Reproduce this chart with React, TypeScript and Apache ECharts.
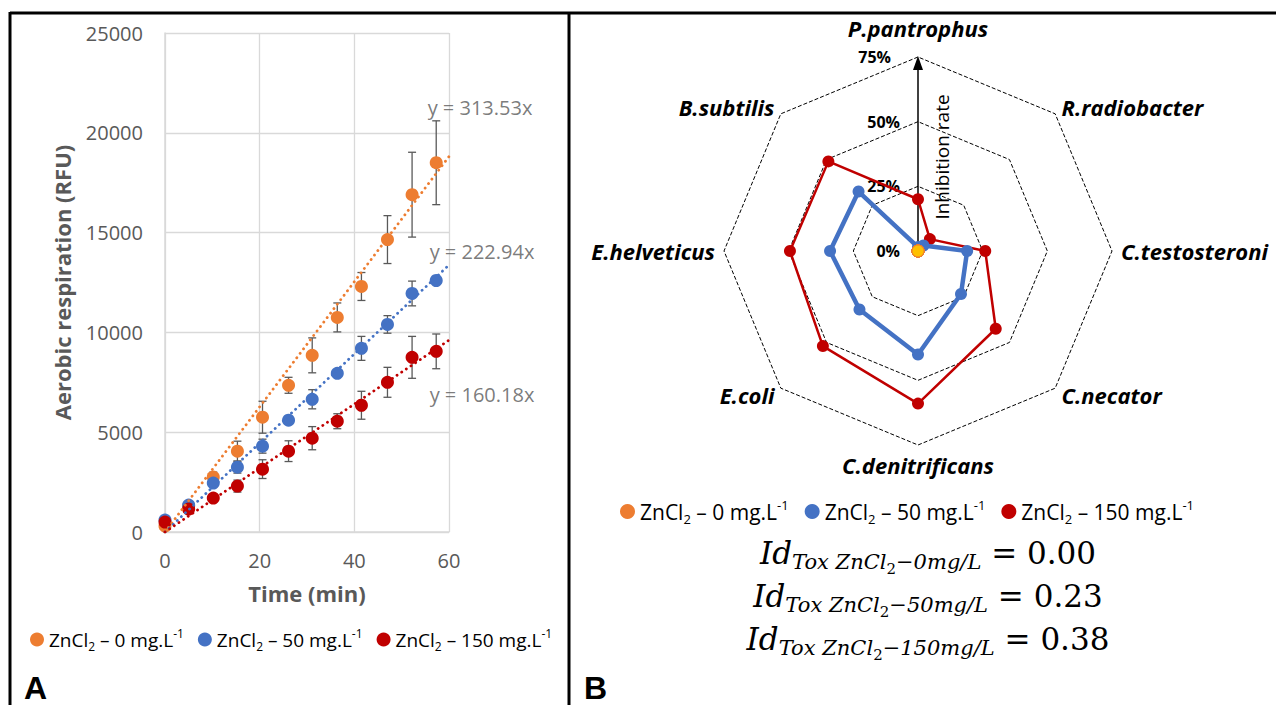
import React, { useEffect, useRef } from "react";
import * as echarts from "echarts";

// ---------- Panel A data ----------
const timeMin = [0, 5, 10.2, 15.3, 20.6, 26.1, 31.1, 36.4, 41.5, 47, 52.2, 57.3];
const resp0 = [300, 1300, 2750, 4050, 5750, 7350, 8850, 10750, 12300, 14650, 16900, 18500];
const err0 = [100, 200, 250, 500, 800, 400, 875, 725, 700, 1200, 2125, 2100];
const resp50 = [600, 1350, 2450, 3250, 4300, 5600, 6650, 7950, 9200, 10400, 11950, 12600];
const err50 = [80, 150, 200, 300, 350, 150, 480, 150, 600, 440, 620, 200];
const resp150 = [500, 1150, 1700, 2300, 3150, 4050, 4700, 5550, 6350, 7500, 8750, 9050];
const err150 = [80, 200, 200, 300, 470, 520, 580, 375, 700, 750, 1050, 870];
const slopes = [313.53, 222.94, 160.18];
const doses = ["0", "50", "150"];
const seriesNames = doses.map((d) => `ZnCl₂ – ${d} mg.L⁻¹`);
const xMin = 0, xMax = 60, xInterval = 20;
const yMin = 0, yMax = 25000, yInterval = 5000;

// ---------- Panel B data ----------
const species = [
  "P.pantrophus", "R.radiobacter", "C.testosteroni", "C.necator",
  "C.denitrificans", "E.coli", "E.helveticus", "B.subtilis",
];
const inhib0 = [0, 0, 0, 0, 0, 0, 0, 0];
const inhib50 = [1.5, 3, 19, 23.5, 40, 32, 34, 32.5];
const inhib150 = [20, 6.5, 26, 42.5, 59, 52, 49.5, 49];
const radarTicks = [0, 25, 50, 75];
const idTox = ["0.00", "0.23", "0.38"];

// ---------- styles / layout ----------
const colors = ["#ED7D31", "#4472C4", "#C00000"];
const gray = "#595959";
const FONT = "'Open Sans', 'Noto Sans', sans-serif";
const SERIF = "'DejaVu Serif', 'Liberation Serif', serif";
const RC = [918, 251];
const RR = 194;
const trendLabelOffsets = [[31, -49], [33, -14], [33, 54]];

const resp = [resp0, resp50, resp150];
const errs = [err0, err50, err150];
const inhib = [inhib0, inhib50, inhib150];

// ECharts radar runs counter-clockwise: reorder so the picture reads clockwise
const ccwOrder = species.map((_, i) => (i === 0 ? 0 : species.length - i));

const makeRich = (fs: number) => ({
  a: { fontFamily: FONT, fontSize: fs, lineHeight: fs + 6, color: "#000" },
  s: { fontFamily: FONT, fontSize: Math.round(fs * 0.62), lineHeight: 10, verticalAlign: "bottom", color: "#000" },
  p: { fontFamily: FONT, fontSize: Math.round(fs * 0.62), lineHeight: 16, verticalAlign: "top", color: "#000" },
});
const legendFormatter = (name: string) => {
  const d = doses[seriesNames.indexOf(name)];
  return `{a|ZnCl}{s|2}{a| – ${d} mg.L}{p|-1}`;
};

export default function App() {
  const ref = useRef<HTMLDivElement>(null);
  useEffect(() => {
    if (!ref.current) return;
    const chart = echarts.init(ref.current, null, { renderer: "svg" });

    const series: any[] = [];
    // error bars
    resp.forEach((r, i) => {
      series.push({
        type: "custom",
        name: "err" + i,
        silent: true,
        z: 2,
        encode: { x: 0, y: [1, 2] },
        data: timeMin.map((t, k) => [t, r[k] - errs[i][k], r[k] + errs[i][k]]),
        renderItem: (params: any, api: any) => {
          const x = api.value(0);
          const lo = api.coord([x, api.value(1)]);
          const hi = api.coord([x, api.value(2)]);
          const hw = 4;
          const st = { stroke: gray, lineWidth: 1.3 };
          return {
            type: "group",
            children: [
              { type: "line", shape: { x1: lo[0], y1: lo[1], x2: hi[0], y2: hi[1] }, style: st },
              { type: "line", shape: { x1: lo[0] - hw, y1: lo[1], x2: lo[0] + hw, y2: lo[1] }, style: st },
              { type: "line", shape: { x1: hi[0] - hw, y1: hi[1], x2: hi[0] + hw, y2: hi[1] }, style: st },
            ],
          };
        },
      });
    });
    // points
    resp.forEach((r, i) => {
      series.push({
        type: "scatter",
        name: seriesNames[i],
        z: 3,
        symbol: "circle",
        symbolSize: 13,
        itemStyle: { color: colors[i], opacity: 1 },
        data: timeMin.map((t, k) => [t, r[k]]),
      });
    });
    // trend lines
    slopes.forEach((s, i) => {
      series.push({
        type: "line",
        name: "trend" + i,
        silent: true,
        z: 4,
        symbol: "none",
        showSymbol: false,
        lineStyle: { color: colors[i], width: 2.8, type: [0.1, 5.5], cap: "round" },
        data: [[xMin, 0], [xMax, s * xMax]],
      });
      series.push({
        type: "scatter",
        name: "trendLabel" + i,
        silent: true,
        z: 5,
        symbolSize: 0,
        data: [[xMax, s * xMax]],
        label: {
          show: true,
          position: "inside",
          offset: trendLabelOffsets[i],
          formatter: `y = ${s.toFixed(2)}x`,
          fontFamily: FONT,
          fontSize: 20,
          color: gray,
        },
      });
    });
    // radar
    [2, 1, 0].forEach((i) => {
      const isZero = i === 0;
      series.push({
        type: "radar",
        name: "radar" + i,
        z: 3 + (2 - i),
        symbol: "circle",
        symbolSize: 12,
        lineStyle: { color: isZero ? "#FFC000" : colors[i], width: i === 1 ? 4.5 : i === 2 ? 2.5 : 1 },
        itemStyle: isZero
          ? { color: "#FFC000", borderColor: "#ED7D31", borderWidth: 1 }
          : { color: colors[i] },
        data: [{ name: seriesNames[i], value: ccwOrder.map((k) => inhib[i][k]) }],
      });
    });

    const legendCommon = {
      data: seriesNames,
      icon: "circle",
      padding: 0,
      selectedMode: false,
      formatter: legendFormatter,
    };

    const graphic: any[] = [
      // frame
      { type: "line", shape: { x1: 10, y1: 13, x2: 1276, y2: 13 }, style: { stroke: "#000", lineWidth: 3 } },
      { type: "line", shape: { x1: 10, y1: 12, x2: 10, y2: 705 }, style: { stroke: "#000", lineWidth: 3 } },
      { type: "line", shape: { x1: 569, y1: 12, x2: 569, y2: 705 }, style: { stroke: "#000", lineWidth: 3 } },
      { type: "text", x: 24, y: 688, style: { text: "A", font: "bold 32px 'Liberation Sans', Arial, sans-serif", fill: "#000", verticalAlign: "middle" } },
      { type: "text", x: 584, y: 688, style: { text: "B", font: "bold 32px 'Liberation Sans', Arial, sans-serif", fill: "#000", verticalAlign: "middle" } },
      // arrow
      { type: "line", z: 1, shape: { x1: RC[0], y1: RC[1], x2: RC[0], y2: RC[1] - RR + 10 }, style: { stroke: "#000", lineWidth: 1.5 } },
      { type: "polygon", z: 1, shape: { points: [[RC[0], RC[1] - RR - 1], [RC[0] - 5, RC[1] - RR + 13], [RC[0] + 5, RC[1] - RR + 13]] }, style: { fill: "#000" } },
      {
        type: "text", z: 1, x: RC[0] + 24, y: RC[1] - RR + 100, rotation: Math.PI / 2,
        style: { text: "Inhibition rate", fontFamily: FONT, fontSize: 19, fill: "#000", align: "center", verticalAlign: "middle" },
      },
    ];
    radarTicks.forEach((t) => {
      graphic.push({
        type: "text", z: 1,
        x: RC[0] - (t === radarTicks[radarTicks.length - 1] ? 27 : 18),
        y: RC[1] - (t / radarTicks[radarTicks.length - 1]) * RR,
        style: { text: `${t}%`, fontFamily: FONT, fontWeight: "bold", fontSize: 16, fill: "#000", align: "right", verticalAlign: "middle" },
      });
    });
    idTox.forEach((v, i) => {
      graphic.push({
        type: "text",
        x: 928,
        y: 553 + i * 43,
        style: {
          text: `{i|Id}{s|Tox ZnCl}{ss|2}{s|−${doses[i]}mg/L}{n| = ${v}}`,
          align: "center",
          verticalAlign: "middle",
          rich: {
            i: { fontFamily: SERIF, fontStyle: "italic", fontSize: 31, lineHeight: 46, fill: "#000" },
            s: { fontFamily: SERIF, fontStyle: "italic", fontSize: 21, lineHeight: 14, verticalAlign: "bottom", padding: [0, 0, 4, 0], fill: "#000" },
            ss: { fontFamily: SERIF, fontSize: 15, lineHeight: 2, verticalAlign: "bottom", fill: "#000" },
            n: { fontFamily: SERIF, fontSize: 31, lineHeight: 46, fill: "#000" },
          },
        },
      });
    });

    chart.setOption({
      animation: false,
      backgroundColor: "#fff",
      grid: { left: 165, top: 33, right: 1276 - 449, bottom: 705 - 532, containLabel: false },
      xAxis: {
        type: "value", min: xMin, max: xMax, interval: xInterval,
        name: "Time (min)", nameLocation: "middle", nameGap: 50,
        nameTextStyle: { fontFamily: FONT, fontSize: 22, fontWeight: "bold", color: gray },
        axisLine: { lineStyle: { color: "#d9d9d9", width: 1.5 } },
        axisTick: { show: false },
        axisLabel: { fontFamily: FONT, fontSize: 20, color: gray, margin: 18 },
        splitLine: { lineStyle: { color: "#d9d9d9", width: 1.3 } },
      },
      yAxis: {
        type: "value", min: yMin, max: yMax, interval: yInterval,
        name: "Aerobic respiration (RFU)", nameLocation: "middle", nameGap: 92, nameRotate: 90,
        nameTextStyle: { fontFamily: FONT, fontSize: 22, fontWeight: "bold", color: gray },
        axisLine: { show: true, lineStyle: { color: "#d9d9d9", width: 1.5 } },
        axisTick: { show: false },
        axisLabel: { fontFamily: FONT, fontSize: 20, color: gray, margin: 22, formatter: (v: number) => String(v) },
        splitLine: { lineStyle: { color: "#d9d9d9", width: 1.3 } },
      },
      radar: {
        center: RC,
        radius: RR,
        startAngle: 90,
        splitNumber: 3,
        shape: "polygon",
        nameGap: 9,
        indicator: ccwOrder.map((k) => ({ name: species[k], min: radarTicks[0], max: radarTicks[radarTicks.length - 1] })),
        axisName: {
          color: "#000", fontFamily: FONT, fontSize: 22, fontWeight: "bold", fontStyle: "italic",
          formatter: (name: string) => (name === species[0] ? `{top|${name}}` : name),
          rich: {
            top: { color: "#000", fontFamily: FONT, fontSize: 22, fontWeight: "bold", fontStyle: "italic", padding: [0, 0, 9, 0] },
          },
        },
        splitLine: { lineStyle: { color: "#000", type: [4, 2], width: 1 } },
        splitArea: { show: false },
        axisLine: { show: false },
        axisTick: { show: false },
        axisLabel: { show: false },
      },
      legend: [
        {
          ...legendCommon, left: 30, top: 627, itemWidth: 14, itemHeight: 14, itemGap: 14,
          textStyle: { rich: makeRich(19), fontFamily: FONT, fontSize: 19, color: "#000" },
        },
        {
          ...legendCommon, left: 620, top: 498, itemWidth: 15, itemHeight: 15, itemGap: 16,
          textStyle: { rich: makeRich(21), fontFamily: FONT, fontSize: 21, color: "#000" },
        },
      ],
      graphic,
      series,
    });
    return () => chart.dispose();
  }, []);
  return (
    <div
      ref={ref}
      style={{ position: "fixed", left: 0, top: 0, width: 1276, height: 705, background: "#fff" }}
    />
  );
}
